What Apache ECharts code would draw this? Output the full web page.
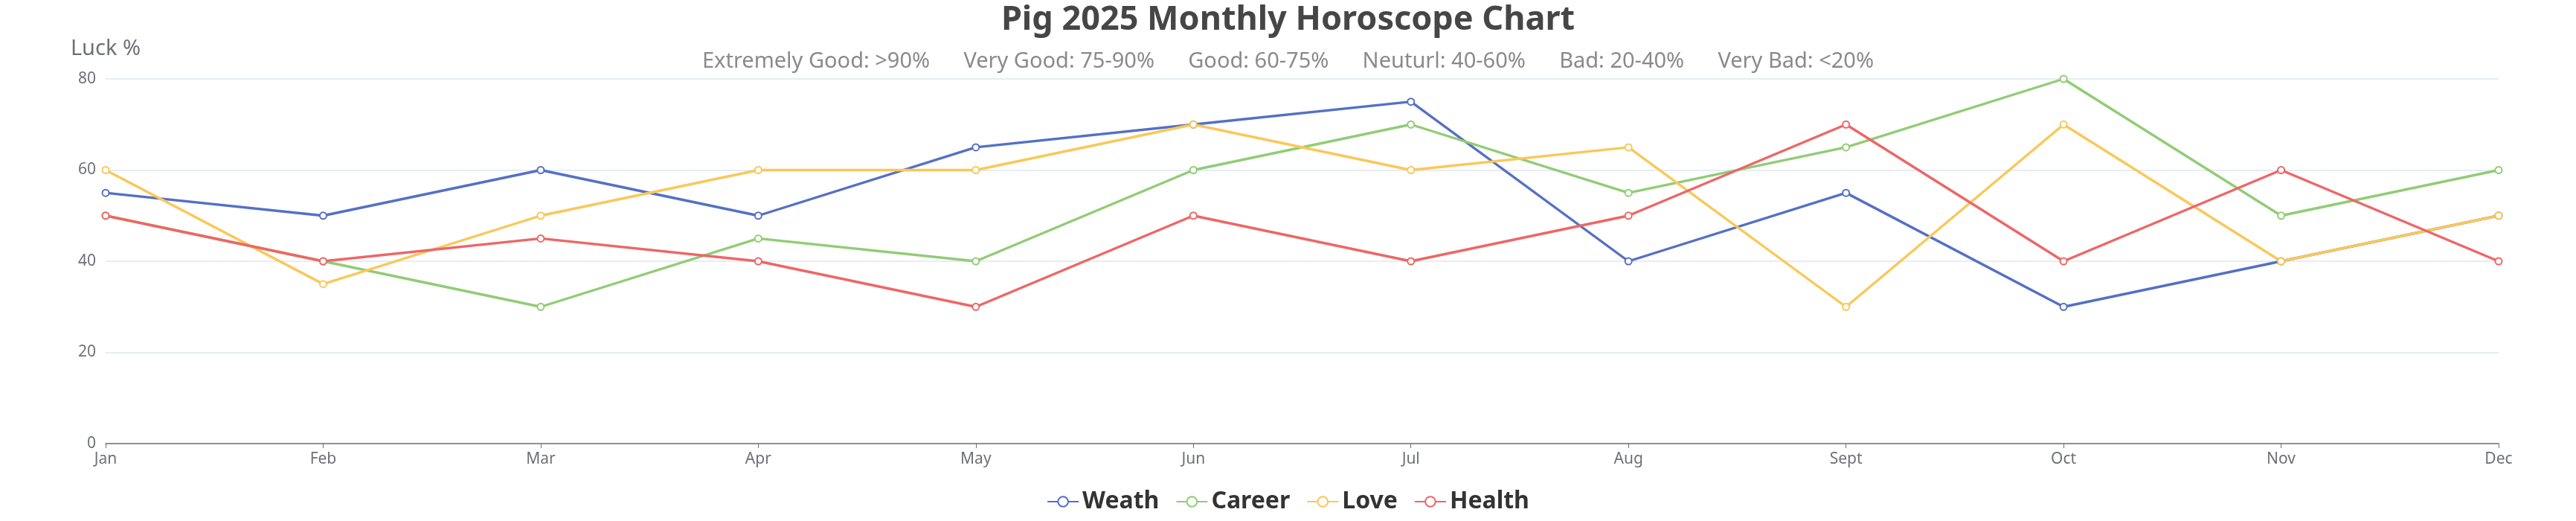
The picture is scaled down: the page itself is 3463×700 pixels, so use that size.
<!DOCTYPE html>
<html>
<head>
<meta charset="utf-8">
<script src="https://cdn.jsdelivr.net/npm/echarts@6/dist/echarts.min.js"></script>
<style>
html,body{margin:0;padding:0;background:#fff;}
#chart{width:3463px;height:700px;}
</style>
</head>
<body>
<div id="chart"></div>
<script>
const months = ['Jan','Feb','Mar','Apr','May','Jun','Jul','Aug','Sept','Oct','Nov','Dec'];
const weath  = [55, 50, 60, 50, 65, 70, 75, 40, 55, 30, 40, 50];
const career = [50, 40, 30, 45, 40, 60, 70, 55, 65, 80, 50, 60];
const love   = [60, 35, 50, 60, 60, 70, 60, 65, 30, 70, 40, 50];
const health = [50, 40, 45, 40, 30, 50, 40, 50, 70, 40, 60, 40];
const seriesNames = ['Weath', 'Career', 'Love', 'Health'];
const colors = ['#5470c6', '#91cc75', '#fac858', '#ee6666'];
const titleText = 'Pig 2025 Monthly Horoscope Chart';
const subText = 'Extremely Good: >90%      Very Good: 75-90%      Good: 60-75%      Neuturl: 40-60%      Bad: 20-40%      Very Bad: <20%';

const FONT = '"Noto Sans", "Open Sans", sans-serif';
const chart = echarts.init(document.getElementById('chart'));
const dataSets = [weath, career, love, health];

chart.setOption({
  textStyle: { fontFamily: FONT },
  color: colors,
  title: {
    text: titleText,
    subtext: subText,
    left: 'center',
    top: 0,
    itemGap: 18,
    textStyle: { fontSize: 45, fontWeight: 'bold', color: '#464646', fontFamily: FONT },
    subtextStyle: { fontSize: 29, color: '#8a8a8a', fontFamily: FONT }
  },
  legend: {
    data: seriesNames,
    top: 653,
    left: 'center',
    itemWidth: 42,
    itemHeight: 17,
    itemGap: 22,
    textStyle: { fontSize: 32, fontWeight: 'bold', color: '#333', fontFamily: FONT }
  },
  grid: { left: 142, right: 104, top: 106, bottom: 104, containLabel: false },
  xAxis: {
    type: 'category',
    data: months,
    boundaryGap: false,
    axisTick: { alignWithLabel: true, length: 6 },
    axisLine: { lineStyle: { color: '#6e7079', width: 1.5 } },
    axisLabel: { fontSize: 21, color: '#6e7079', margin: 11, fontFamily: FONT }
  },
  yAxis: {
    type: 'value',
    min: 0,
    max: 80,
    interval: 20,
    name: 'Luck %',
    nameGap: 26,
    nameTextStyle: { fontSize: 29, color: '#6e7079', fontFamily: FONT },
    axisLabel: { fontSize: 21, color: '#6e7079', margin: 13, fontFamily: FONT },
    splitLine: { lineStyle: { color: '#e0e6f1', width: 1.5 } }
  },
  series: seriesNames.map((n, i) => ({
    name: n,
    type: 'line',
    data: dataSets[i],
    symbol: 'emptyCircle',
    symbolSize: 9,
    lineStyle: { width: 3.4 },
    itemStyle: { borderWidth: 2.4 }
  }))
});
</script>
</body>
</html>
